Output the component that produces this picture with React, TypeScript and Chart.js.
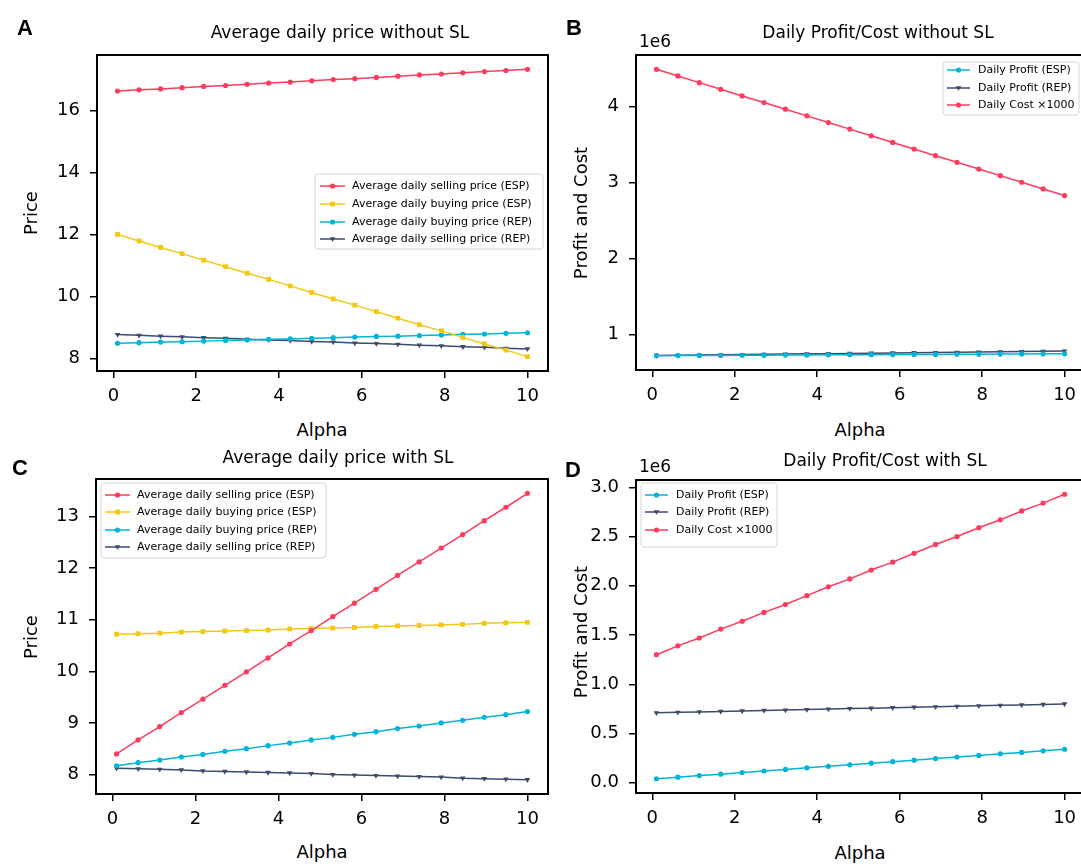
import React, { useEffect, useRef } from "react";
import { Chart, registerables } from "chart.js";
Chart.register(...registerables);

// ---------- data ----------
const alpha = [0.1, 0.62, 1.14, 1.66, 2.18, 2.71, 3.23, 3.75, 4.27, 4.79, 5.31, 5.83, 6.35, 6.87, 7.39, 7.92, 8.44, 8.96, 9.48, 10.0];
const xTicks = [0, 2, 4, 6, 8, 10];

// A: average daily price without SL
const aSellESP = [16.62, 16.66, 16.69, 16.73, 16.77, 16.8, 16.84, 16.88, 16.91, 16.95, 16.99, 17.02, 17.06, 17.1, 17.14, 17.17, 17.21, 17.25, 17.28, 17.32];
const aBuyESP = [12.0, 11.79, 11.58, 11.38, 11.17, 10.96, 10.75, 10.55, 10.34, 10.13, 9.92, 9.72, 9.51, 9.3, 9.09, 8.89, 8.68, 8.47, 8.27, 8.06];
const aBuyREP = [8.49, 8.51, 8.53, 8.54, 8.56, 8.58, 8.6, 8.62, 8.63, 8.65, 8.67, 8.69, 8.71, 8.72, 8.74, 8.76, 8.78, 8.79, 8.81, 8.83];
const aSellREP = [8.77, 8.75, 8.72, 8.7, 8.67, 8.65, 8.62, 8.6, 8.58, 8.55, 8.53, 8.5, 8.48, 8.46, 8.43, 8.41, 8.38, 8.36, 8.33, 8.31];
const aYTicks = [8, 10, 12, 14, 16];

// B: daily profit / cost without SL (units of 1e6)
const bProfitESP = [0.725, 0.726, 0.728, 0.729, 0.73, 0.732, 0.733, 0.734, 0.736, 0.737, 0.738, 0.74, 0.741, 0.742, 0.744, 0.745, 0.746, 0.748, 0.749, 0.75];
const bProfitREP = [0.728, 0.731, 0.734, 0.737, 0.74, 0.743, 0.746, 0.749, 0.752, 0.755, 0.758, 0.761, 0.764, 0.767, 0.77, 0.773, 0.776, 0.779, 0.782, 0.785];
const bCost = [4.49, 4.403, 4.315, 4.228, 4.14, 4.053, 3.966, 3.878, 3.791, 3.704, 3.616, 3.529, 3.442, 3.354, 3.267, 3.179, 3.092, 3.005, 2.917, 2.83];
const bYTicks = [1, 2, 3, 4];

// C: average daily price with SL
const cSellESP = [8.4, 8.67, 8.93, 9.2, 9.46, 9.73, 9.99, 10.26, 10.53, 10.79, 11.06, 11.32, 11.59, 11.86, 12.12, 12.39, 12.65, 12.92, 13.18, 13.45];
const cBuyESP = [10.72, 10.73, 10.74, 10.76, 10.77, 10.78, 10.79, 10.8, 10.82, 10.83, 10.84, 10.85, 10.87, 10.88, 10.89, 10.9, 10.91, 10.93, 10.94, 10.95];
const cBuyREP = [8.17, 8.23, 8.28, 8.34, 8.39, 8.45, 8.5, 8.56, 8.61, 8.67, 8.72, 8.78, 8.83, 8.89, 8.94, 9.0, 9.05, 9.11, 9.16, 9.22];
const cSellREP = [8.12, 8.11, 8.1, 8.09, 8.07, 8.06, 8.05, 8.04, 8.03, 8.02, 8.0, 7.99, 7.98, 7.97, 7.96, 7.95, 7.93, 7.92, 7.91, 7.9];
const cYTicks = [8, 9, 10, 11, 12, 13];

// D: daily profit / cost with SL (units of 1e6)
const dProfitESP = [0.04, 0.056, 0.072, 0.087, 0.103, 0.119, 0.135, 0.151, 0.166, 0.182, 0.198, 0.214, 0.229, 0.245, 0.261, 0.277, 0.293, 0.308, 0.324, 0.34];
const dProfitREP = [0.71, 0.715, 0.719, 0.724, 0.729, 0.734, 0.738, 0.743, 0.748, 0.753, 0.757, 0.762, 0.767, 0.771, 0.776, 0.781, 0.786, 0.79, 0.795, 0.8];
const dCost = [1.3, 1.39, 1.47, 1.56, 1.64, 1.73, 1.81, 1.9, 1.99, 2.07, 2.16, 2.24, 2.33, 2.42, 2.5, 2.59, 2.67, 2.76, 2.84, 2.93];
const dYTicks = [0, 0.5, 1.0, 1.5, 2.0, 2.5, 3.0];

const priceLabels = [
  "Average daily selling price (ESP)",
  "Average daily buying price (ESP)",
  "Average daily buying price (REP)",
  "Average daily selling price (REP)",
];
const profitLabels = ["Daily Profit (ESP)", "Daily Profit (REP)", "Daily Cost \u00d71000"];

// ---------- style ----------
const RED = "#ff3a5c";
const YELLOW = "#f2c811";
const CYAN = "#00b4d8";
const NAVY = "#3d4a6a";
const FONT = "'DejaVu Sans', sans-serif";

const LEFT = 80;
const TOP = 30;
const RIGHT = 30;
const BOTTOM = 46;

type Series = { label: string; data: number[]; color: string; marker: string; rot?: number; r?: number };

const mk = (label: string, data: number[], color: string, marker: string, rot = 0, r = 2.6): Series => ({ label, data, color, marker, rot, r });

function range(series: Series[]) {
  let lo = Infinity, hi = -Infinity;
  series.forEach((s) => s.data.forEach((v) => { lo = Math.min(lo, v); hi = Math.max(hi, v); }));
  const m = (hi - lo) * 0.05;
  return [lo - m, hi + m];
}

function drawMarker(ctx: CanvasRenderingContext2D, x: number, y: number, s: Series) {
  const r = s.r || 2.6;
  ctx.fillStyle = s.color;
  ctx.beginPath();
  if (s.marker === "rect") {
    const q = r * Math.SQRT1_2;
    ctx.rect(x - q, y - q, 2 * q, 2 * q);
  } else if (s.marker === "triangle") {
    ctx.moveTo(x - r * 1.1, y - r * 0.7);
    ctx.lineTo(x + r * 1.1, y - r * 0.7);
    ctx.lineTo(x, y + r * 1.1);
    ctx.closePath();
  } else {
    ctx.arc(x, y, r, 0, Math.PI * 2);
  }
  ctx.fill();
}

type PanelCfg = {
  plot: { l: number; t: number; r: number; b: number };
  series: Series[];
  yTicks: number[];
  yFmt: (v: number) => string;
  legend: { x: number; y: number; w: number; h: number; rows: number[]; lx1: number; lx2: number; tx: number };
};

function Panel({ cfg }: { cfg: PanelCfg }) {
  const ref = useRef<HTMLCanvasElement>(null);
  const cl = cfg.plot.l - LEFT;
  const ct = cfg.plot.t - TOP;
  const w = cfg.plot.r - cfg.plot.l + LEFT + RIGHT;
  const h = cfg.plot.b - cfg.plot.t + TOP + BOTTOM;
  useEffect(() => {
    const [ymin, ymax] = range(cfg.series);
    const x0 = alpha[0], x1 = alpha[alpha.length - 1];
    const xr = [x0 - (x1 - x0) * 0.05, x1 + (x1 - x0) * 0.05];
    const boxLegend = {
      id: "boxLegend",
      afterDraw(chart: any) {
        const ctx = chart.ctx as CanvasRenderingContext2D;
        const a = chart.chartArea;
        ctx.save();
        ctx.strokeStyle = "#000";
        ctx.lineWidth = 2;
        ctx.strokeRect(a.left, a.top, a.right - a.left, a.bottom - a.top);
        const L = cfg.legend;
        const x = L.x - cl, y = L.y - ct;
        ctx.beginPath();
        const rr = 3;
        ctx.moveTo(x + rr, y);
        ctx.arcTo(x + L.w, y, x + L.w, y + L.h, rr);
        ctx.arcTo(x + L.w, y + L.h, x, y + L.h, rr);
        ctx.arcTo(x, y + L.h, x, y, rr);
        ctx.arcTo(x, y, x + L.w, y, rr);
        ctx.closePath();
        ctx.fillStyle = "rgba(255,255,255,0.85)";
        ctx.fill();
        ctx.strokeStyle = "#d6d6d6";
        ctx.lineWidth = 1;
        ctx.stroke();
        cfg.series.forEach((s, i) => {
          const ry = L.rows[i] - ct;
          ctx.strokeStyle = s.color;
          ctx.lineWidth = 1.5;
          ctx.beginPath();
          ctx.moveTo(L.lx1 - cl, ry);
          ctx.lineTo(L.lx2 - cl, ry);
          ctx.stroke();
          drawMarker(ctx, (L.lx1 + L.lx2) / 2 - cl, ry, s);
          ctx.fillStyle = "#000";
          ctx.font = `11px ${FONT}`;
          ctx.textBaseline = "middle";
          ctx.textAlign = "left";
          ctx.fillText(s.label, L.tx - cl, ry + 0.5);
        });
        ctx.restore();
      },
    };
    const chart = new Chart(ref.current as HTMLCanvasElement, {
      type: "line",
      data: {
        datasets: cfg.series.map((s) => ({
          label: s.label,
          data: alpha.map((a, i) => ({ x: a, y: s.data[i] })),
          borderColor: s.color,
          backgroundColor: s.color,
          borderWidth: 1.5,
          pointStyle: s.marker as any,
          pointRotation: s.rot,
          pointRadius: s.marker === "triangle" ? 3.2 : s.r,
          pointBorderWidth: 0,
          pointBackgroundColor: s.color,
          tension: 0,
        })),
      },
      options: {
        animation: false,
        responsive: false,
        devicePixelRatio: 1,
        layout: { padding: { left: 0, top: TOP, right: RIGHT, bottom: 0 } },
        plugins: { legend: { display: false }, tooltip: { enabled: false }, title: { display: false } },
        scales: {
          x: {
            type: "linear",
            min: xr[0],
            max: xr[1],
            afterBuildTicks: (s: any) => { s.ticks = xTicks.map((v) => ({ value: v })); },
            afterFit: (s: any) => { s.height = BOTTOM; },
            grid: { drawOnChartArea: false, drawTicks: true, tickLength: 7, color: "#000", lineWidth: 1.5 },
            border: { display: false },
            ticks: { color: "#000", font: { family: FONT, size: 18 }, padding: 8, maxRotation: 0, autoSkip: false, callback: (v: any) => String(v) },
          },
          y: {
            type: "linear",
            min: ymin,
            max: ymax,
            afterBuildTicks: (s: any) => { s.ticks = cfg.yTicks.map((v) => ({ value: v })); },
            afterFit: (s: any) => { s.width = LEFT; },
            grid: { drawOnChartArea: false, drawTicks: true, tickLength: 7, color: "#000", lineWidth: 1.5 },
            border: { display: false },
            ticks: { color: "#000", font: { family: FONT, size: 18 }, padding: 10, autoSkip: false, callback: (v: any) => cfg.yFmt(Number(v)) },
          },
        },
      },
      plugins: [boxLegend],
    } as any);
    return () => chart.destroy();
  }, []);
  return <canvas ref={ref} width={w} height={h} style={{ position: "absolute", left: cl, top: ct, width: w, height: h }} />;
}

const T = ({ x, y, s, children, rot = false, bold = false, fam }: any) => (
  <div
    style={{
      position: "absolute",
      left: x,
      top: y,
      transform: `translate(-50%,-50%)${rot ? " rotate(-90deg)" : ""}`,
      fontSize: s,
      fontWeight: bold ? 700 : 400,
      fontFamily: fam || FONT,
      whiteSpace: "nowrap",
      lineHeight: 1,
      color: "#000",
    }}
  >
    {children}
  </div>
);

const panels: PanelCfg[] = [
  {
    plot: { l: 97, t: 55, r: 548, b: 371 },
    series: [
      mk(priceLabels[0], aSellESP, RED, "circle"),
      mk(priceLabels[1], aBuyESP, YELLOW, "rect", 0, 3.4),
      mk(priceLabels[2], aBuyREP, CYAN, "circle"),
      mk(priceLabels[3], aSellREP, NAVY, "triangle", 180),
    ],
    yTicks: aYTicks,
    yFmt: (v) => String(v),
    legend: { x: 315, y: 174, w: 228, h: 75, rows: [186, 204, 222, 239], lx1: 320, lx2: 345, tx: 352 },
  },
  {
    plot: { l: 636, t: 55, r: 1085, b: 370 },
    series: [
      mk(profitLabels[0], bProfitESP, CYAN, "circle"),
      mk(profitLabels[1], bProfitREP, NAVY, "triangle", 180),
      mk(profitLabels[2], bCost, RED, "circle"),
    ],
    yTicks: bYTicks,
    yFmt: (v) => String(v),
    legend: { x: 943, y: 62, w: 136, h: 53, rows: [70, 88, 105], lx1: 947, lx2: 970, tx: 978 },
  },
  {
    plot: { l: 96, t: 479, r: 548, b: 794 },
    series: [
      mk(priceLabels[0], cSellESP, RED, "circle"),
      mk(priceLabels[1], cBuyESP, YELLOW, "rect", 0, 3.4),
      mk(priceLabels[2], cBuyREP, CYAN, "circle"),
      mk(priceLabels[3], cSellREP, NAVY, "triangle", 180),
    ],
    yTicks: cYTicks,
    yFmt: (v) => String(v),
    legend: { x: 101, y: 483, w: 225, h: 75, rows: [495, 512, 530, 547], lx1: 105, lx2: 130, tx: 137 },
  },
  {
    plot: { l: 636, t: 480, r: 1085, b: 793 },
    series: [
      mk(profitLabels[0], dProfitESP, CYAN, "circle"),
      mk(profitLabels[1], dProfitREP, NAVY, "triangle", 180),
      mk(profitLabels[2], dCost, RED, "circle"),
    ],
    yTicks: dYTicks,
    yFmt: (v) => v.toFixed(1),
    legend: { x: 641, y: 483, w: 136, h: 64, rows: [495, 512, 530], lx1: 645, lx2: 668, tx: 676 },
  },
];

export default function App() {
  return (
    <div style={{ position: "fixed", left: 0, top: 0, width: 1081, height: 866, overflow: "hidden", background: "#fff" }}>
      {panels.map((p, i) => (
        <Panel key={i} cfg={p} />
      ))}
      <T x={25} y={28} s={22} bold fam="'Liberation Sans', Arial, sans-serif">A</T>
      <T x={574} y={28} s={22} bold fam="'Liberation Sans', Arial, sans-serif">B</T>
      <T x={20} y={468} s={22} bold fam="'Liberation Sans', Arial, sans-serif">C</T>
      <T x={573} y={470} s={22} bold fam="'Liberation Sans', Arial, sans-serif">D</T>

      <T x={340} y={32} s={17}>Average daily price without SL</T>
      <T x={878} y={32} s={17}>Daily Profit/Cost without SL</T>
      <T x={338} y={457} s={17}>Average daily price with SL</T>
      <T x={885} y={460} s={17}>Daily Profit/Cost with SL</T>

      <T x={322} y={430} s={18}>Alpha</T>
      <T x={860} y={430} s={18}>Alpha</T>
      <T x={322} y={852} s={18}>Alpha</T>
      <T x={860} y={853} s={18}>Alpha</T>

      <T x={31} y={213} s={18} rot>Price</T>
      <T x={581} y={213} s={18} rot>Profit and Cost</T>
      <T x={31} y={637} s={18} rot>Price</T>
      <T x={581} y={632} s={18} rot>Profit and Cost</T>

      <T x={655} y={41} s={17}>1e6</T>
      <T x={655} y={466} s={17}>1e6</T>
    </div>
  );
}
